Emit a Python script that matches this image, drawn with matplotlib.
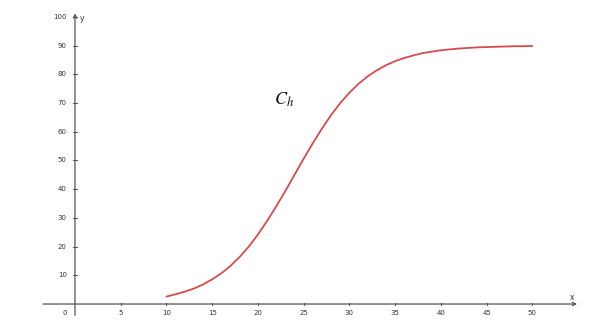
import matplotlib
matplotlib.use('Agg')
import matplotlib.pyplot as plt

x_vals = list(range(10, 51))
y_vals = [2.6, 3.4, 4.3, 5.4, 6.8, 8.6, 10.7, 13.3, 16.4, 20.0,
          24.2, 28.9, 34.0, 39.4, 45.0, 50.6, 56.0, 61.1, 65.8, 70.0,
          73.6, 76.7, 79.3, 81.4, 83.2, 84.6, 85.7, 86.6, 87.4, 87.9,
          88.4, 88.7, 89.0, 89.2, 89.4, 89.5, 89.6, 89.7, 89.8, 89.8, 89.9]
x_ticks = [5, 10, 15, 20, 25, 30, 35, 40, 45, 50]
y_ticks = [10, 20, 30, 40, 50, 60, 70, 80, 90, 100]

plt.rcParams['mathtext.fontset'] = 'stix'

fig = plt.figure(figsize=(5.89, 3.29), dpi=100)
ax = fig.add_axes([0, 0, 1, 1])
ax.set_xlim(-8.2, 56.2)
ax.set_ylim(-8.7, 105.9)
ax.axis('off')

axis_col = '#555555'
# axes with arrows
ax.annotate('', xy=(55.2, 0), xytext=(-3.8, 0),
            arrowprops=dict(arrowstyle='->', color=axis_col, lw=0.9, mutation_scale=6))
ax.annotate('', xy=(0, 102.2), xytext=(0, -4.9),
            arrowprops=dict(arrowstyle='->', color=axis_col, lw=0.9, mutation_scale=6))

tcol = '#333333'
for t in x_ticks:
    ax.plot([t, t], [-0.5, 0.5], color=axis_col, lw=0.7)
    ax.text(t, -2.0, str(t), ha='center', va='top', fontsize=5, color=tcol)
for t in y_ticks:
    ax.plot([-0.25, 0.25], [t, t], color=axis_col, lw=0.7)
    ax.text(-0.9, t, str(t), ha='right', va='center', fontsize=5, color=tcol)
ax.text(-0.9, -2.0, '0', ha='right', va='top', fontsize=5, color=tcol)
ax.text(54.3, 0.8, 'x', ha='center', va='bottom', fontsize=5.5, color=tcol)
ax.text(0.5, 99.5, 'y', ha='left', va='center', fontsize=5.5, color=tcol)

ax.plot(x_vals, y_vals, color='#d94a4a', lw=1.3, solid_capstyle='round')
ax.text(22.9, 71, r'$C_h$', ha='center', va='center', fontsize=13, color='#111111')

fig.savefig('out.png', dpi=100)
